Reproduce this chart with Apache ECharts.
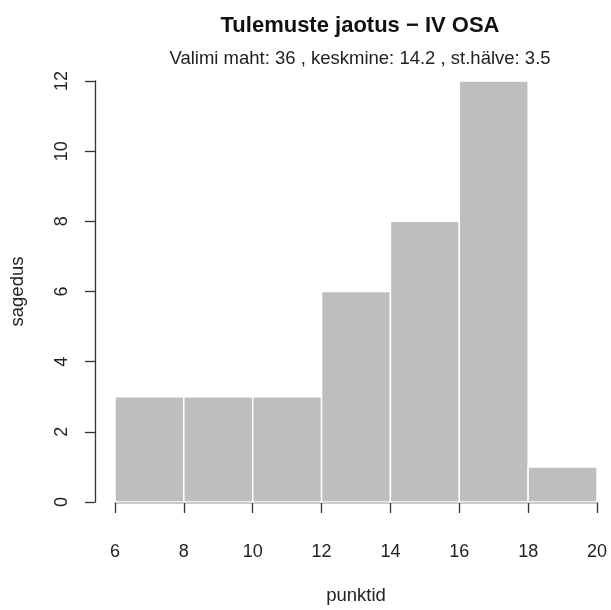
<!DOCTYPE html>
<html><head><meta charset="utf-8">
<script src="https://cdn.jsdelivr.net/npm/echarts@6/dist/echarts.min.js"></script>
<style>html,body{margin:0;padding:0;background:#fff}#c{width:611px;height:610px}</style>
</head><body><div id="c"></div>
<script>
var binStarts = [6, 8, 10, 12, 14, 16, 18];
var binEnds = [8, 10, 12, 14, 16, 18, 20];
var counts = [3, 3, 3, 6, 8, 12, 1];
var xTicks = [6, 8, 10, 12, 14, 16, 18, 20];
var yTicks = [0, 2, 4, 6, 8, 10, 12];
var titleText = 'Tulemuste jaotus \u2212 IV OSA';
var subText = 'Valimi maht: 36 , keskmine: 14.2 , st.hälve: 3.5';

var data = binStarts.map(function (s, i) { return [s, binEnds[i], counts[i]]; });
var font = 'Liberation Sans, Arial, Helvetica, sans-serif';
var chart = echarts.init(document.getElementById('c'));
chart.setOption({
  animation: false,
  backgroundColor: '#fff',
  title: [{
    text: titleText, left: 355, top: 10, textAlign: 'center',
    textStyle: { fontFamily: font, fontSize: 22, fontWeight: 'bold', color: '#111' }
  }, {
    text: subText, left: 355, top: 44, textAlign: 'center',
    textStyle: { fontFamily: font, fontSize: 18.5, fontWeight: 'normal', color: '#222' }
  }],
  grid: { left: 113, right: 14, top: 81, bottom: 104 },
  xAxis: {
    type: 'value', min: 6, max: 20, interval: 2, offset: 17,
    name: 'punktid', nameLocation: 'middle', nameGap: 67,
    nameTextStyle: { fontFamily: font, fontSize: 18.5, color: '#222' },
    axisLine: { show: true, lineStyle: { color: '#333', width: 1.3 } },
    axisTick: { show: true, length: 11, lineStyle: { color: '#333', width: 1.3 } },
    axisLabel: { margin: 24, fontFamily: font, fontSize: 18, color: '#222' },
    splitLine: { show: false }
  },
  yAxis: {
    type: 'value', min: 0, max: 12, interval: 2, offset: 20,
    name: 'sagedus', nameLocation: 'middle', nameGap: 68,
    nameTextStyle: { fontFamily: font, fontSize: 18.5, color: '#222' },
    axisLine: { show: true, lineStyle: { color: '#333', width: 1.3 } },
    axisTick: { show: true, length: 10, lineStyle: { color: '#333', width: 1.3 } },
    axisLabel: { margin: 24, rotate: 90, fontFamily: font, fontSize: 18, color: '#222' },
    splitLine: { show: false }
  },
  series: [{
    type: 'custom',
    data: data,
    encode: { x: [0, 1], y: 2 },
    renderItem: function (params, api) {
      var p0 = api.coord([api.value(0), api.value(2)]);
      var p1 = api.coord([api.value(1), 0]);
      return {
        type: 'rect',
        shape: { x: p0[0], y: p0[1], width: p1[0] - p0[0], height: p1[1] - p0[1] },
        style: { fill: '#bebebe', stroke: '#ffffff', lineWidth: 1.5 }
      };
    }
  }]
});
</script></body></html>
